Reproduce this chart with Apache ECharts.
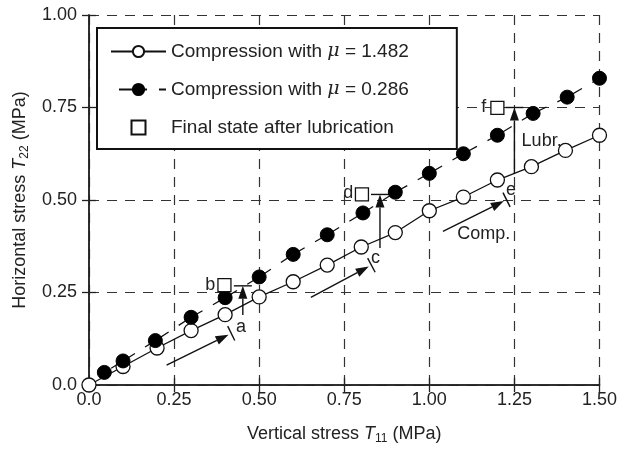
<!DOCTYPE html>
<html>
<head>
<meta charset="utf-8">
<script src="https://cdn.jsdelivr.net/npm/echarts@6/dist/echarts.min.js"></script>
<style>
    html, body { margin: 0; padding: 0; background: #fff; }
    #chart { width: 620px; height: 450px; }
</style>
</head>
<body>
<div id="chart"></div>
<script>
// 数据：两条压缩曲线 + 润滑后状态
const axisTicks = [0, 0.25, 0.5, 0.75, 1.0, 1.25, 1.5];

// mu = 1.482（空心圆）
const highMuX = [0, 0.1, 0.2, 0.3, 0.4, 0.5, 0.6, 0.7, 0.8, 0.9, 1.0, 1.1, 1.2, 1.3, 1.4, 1.5];
const highMuY = [0, 0.05, 0.1, 0.147, 0.19, 0.238, 0.279, 0.324, 0.373, 0.412, 0.471, 0.508, 0.554, 0.59, 0.634, 0.675];

// mu = 0.286（实心圆）
const lowMuX = [0.045, 0.1, 0.195, 0.3, 0.4, 0.5, 0.6, 0.7, 0.805, 0.9, 1.0, 1.1, 1.2, 1.305, 1.405, 1.5];
const lowMuY = [0.034, 0.065, 0.12, 0.183, 0.236, 0.292, 0.353, 0.406, 0.465, 0.521, 0.572, 0.625, 0.675, 0.734, 0.778, 0.829];

// 润滑后的最终状态
const lubX = [0.398, 0.802, 1.2];
const lubY = [0.27, 0.515, 0.749];

// 箭头：起点、终点、类型
const arrowStart = [[0.228, 0.054], [0.652, 0.237], [1.04, 0.415], [0.452, 0.189], [0.855, 0.37], [1.25, 0.57]];
const arrowEnd = [[0.41, 0.136], [0.822, 0.32], [1.219, 0.497], [0.452, 0.268], [0.855, 0.515], [1.25, 0.75]];
const arrowKind = ['comp', 'comp', 'comp', 'lubr', 'lubr', 'lubr'];

// 注释文字
const noteText = ['a', 'b', 'c', 'd', 'e', 'f', 'Comp.', 'Lubr.'];
const noteX = [0.447, 0.356, 0.842, 0.762, 1.24, 1.16, 1.16, 1.33];
const noteY = [0.158, 0.27, 0.344, 0.518, 0.527, 0.752, 0.408, 0.66];

const FONT = 'Liberation Sans, Arial, sans-serif';
const SQUARE = 'path://M0,0H10V10H0Z';

document.addEventListener('DOMContentLoaded', function () {
    const chart = echarts.init(document.getElementById('chart'));

    const fmt = v => (v === 0 ? '0.0' : v.toFixed(2));
    const gridLine = { show: true, lineStyle: { color: '#333', width: 1.2, type: [10, 8] } };
    const frameLine = { show: true, lineStyle: { color: '#222', width: 1.5 } };
    const tick = { show: true, inside: true, length: 7, lineStyle: { color: '#222', width: 1.3 } };
    const nameRich = {
        it: { fontStyle: 'italic', fontSize: 18, fontFamily: FONT, color: '#222' },
        sub: { fontSize: 12, fontFamily: FONT, color: '#222', padding: [10, 0, 0, 0] }
    };

    const legendNames = {
        high: 'Compression with {mu|μ}{t| = 1.482}',
        low: 'Compression with {mu|μ}{t| = 0.286}',
        lub: 'Final state after lubrication'
    };

    // 箭头绘制
    function renderArrow(params, api) {
        const p1 = api.coord([api.value(0), api.value(1)]);
        const p2 = api.coord([api.value(2), api.value(3)]);
        const kind = arrowKind[params.dataIndex];
        let dx = p2[0] - p1[0], dy = p2[1] - p1[1];
        const len = Math.sqrt(dx * dx + dy * dy);
        dx /= len; dy /= len;
        const nx = -dy, ny = dx;
        const hl = 13, hw = 4.5;
        const bx = p2[0] - dx * hl, by = p2[1] - dy * hl;
        const style = { stroke: '#111', lineWidth: 1.4 };
        const children = [
            { type: 'line', shape: { x1: p1[0], y1: p1[1], x2: bx, y2: by }, style: style },
            {
                type: 'polygon',
                shape: { points: [[p2[0], p2[1]], [bx + nx * hw, by + ny * hw], [bx - nx * hw, by - ny * hw]] },
                style: { fill: '#111' }
            }
        ];
        if (kind === 'comp') {
            const cx = p2[0] + dx * 3, cy = p2[1] + dy * 3;
            children.push({ type: 'line', shape: { x1: cx + nx * 8, y1: cy + ny * 8, x2: cx - nx * 8, y2: cy - ny * 8 }, style: style });
        } else {
            children.push({ type: 'line', shape: { x1: p2[0] - 9, y1: p2[1], x2: p2[0] + 9, y2: p2[1] }, style: style });
        }
        return { type: 'group', children: children };
    }

    const option = {
        animation: false,
        backgroundColor: '#fff',
        textStyle: { fontFamily: FONT },
        grid: { left: 89, right: 15, top: 15, bottom: 59 },
        legend: {
            orient: 'vertical',
            left: 97,
            top: 28,
            data: ['high', 'low', 'lub'],
            itemWidth: 55,
            itemHeight: 14,
            itemGap: 19,
            padding: [14, 48, 12, 13],
            backgroundColor: '#fff',
            borderColor: '#111',
            borderWidth: 2,
            borderRadius: 0,
            textStyle: {
                fontSize: 19, fontFamily: FONT, color: '#222',
                rich: {
                    mu: { fontStyle: 'italic', fontSize: 19, fontFamily: 'DejaVu Serif', color: '#222' },
                    t: { fontSize: 19, fontFamily: FONT, color: '#222' }
                }
            },
            formatter: name => legendNames[name]
        },
        xAxis: [
            {
                type: 'value', min: 0, max: 1.5, interval: 0.25, position: 'bottom',
                name: 'Vertical stress {it|T}{sub|11} (MPa)',
                nameLocation: 'middle', nameGap: 38,
                nameTextStyle: { fontSize: 18, fontFamily: FONT, color: '#222', rich: nameRich },
                axisLine: frameLine, axisTick: tick, splitLine: gridLine,
                axisLabel: { formatter: fmt, fontSize: 18, color: '#222', margin: 6, fontFamily: FONT }
            },
            {
                type: 'value', min: 0, max: 1.5, interval: 0.25, position: 'top',
                axisLine: frameLine, axisTick: tick, splitLine: { show: false }, axisLabel: { show: false }
            }
        ],
        yAxis: [
            {
                type: 'value', min: 0, max: 1, interval: 0.25, position: 'left',
                name: 'Horizontal stress {it|T}{sub|22} (MPa)',
                nameLocation: 'middle', nameGap: 58,
                nameTextStyle: { fontSize: 18, fontFamily: FONT, color: '#222', rich: nameRich },
                axisLine: frameLine, axisTick: tick, splitLine: gridLine,
                axisLabel: { formatter: fmt, fontSize: 18, color: '#222', margin: 12, fontFamily: FONT }
            },
            {
                type: 'value', min: 0, max: 1, interval: 0.25, position: 'right',
                axisLine: frameLine, axisTick: tick, splitLine: { show: false }, axisLabel: { show: false }
            }
        ],
        series: [
            {
                name: 'high',
                type: 'line',
                data: highMuX.map((x, i) => [x, highMuY[i]]),
                symbol: 'circle',
                symbolSize: 14,
                lineStyle: { color: '#111', width: 1.3 },
                itemStyle: { color: '#fff', borderColor: '#111', borderWidth: 1.3 },
                z: 4
            },
            {
                name: 'low',
                type: 'line',
                data: lowMuX.map((x, i) => [x, lowMuY[i]]),
                symbol: 'circle',
                symbolSize: 14,
                lineStyle: { color: '#111', width: 1.3, type: [28, 12], dashOffset: 32 },
                itemStyle: { color: '#000', borderColor: '#000', borderWidth: 1 },
                z: 4
            },
            {
                name: 'lub',
                type: 'scatter',
                data: lubX.map((x, i) => [x, lubY[i]]),
                symbol: SQUARE,
                symbolKeepAspect: true,
                symbolSize: 13,
                itemStyle: { color: '#fff', borderColor: '#111', borderWidth: 1.3, opacity: 1 },
                z: 5
            },
            {
                name: 'arrows',
                type: 'custom',
                renderItem: renderArrow,
                data: arrowStart.map((s, i) => [s[0], s[1], arrowEnd[i][0], arrowEnd[i][1]]),
                z: 3
            },
            {
                name: 'notes',
                type: 'scatter',
                symbolSize: 1,
                itemStyle: { color: 'rgba(0,0,0,0)', opacity: 1 },
                label: {
                    show: true, position: 'inside', formatter: '{b}',
                    fontSize: 18, color: '#222', opacity: 1, fontFamily: FONT
                },
                data: noteText.map((t, i) => ({ name: t, value: [noteX[i], noteY[i]] })),
                z: 6
            }
        ]
    };

    chart.setOption(option);
});
</script>
</body>
</html>
